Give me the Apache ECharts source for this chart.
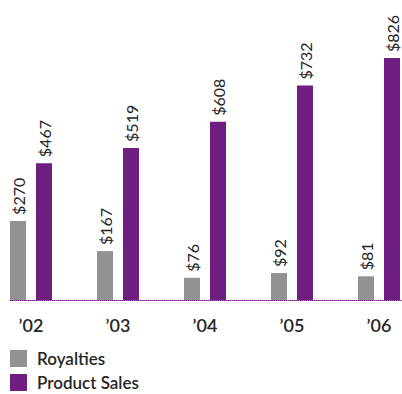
<!DOCTYPE html>
<html>
<head>
<meta charset="utf-8">
<script src="https://cdn.jsdelivr.net/npm/echarts@6/dist/echarts.min.js"></script>
<style>
  html, body { margin: 0; padding: 0; background: #fff; }
  #chart { width: 402px; height: 394px; }
</style>
</head>
<body>
<div id="chart"></div>
<script>
const years = ['’02', '’03', '’04', '’05', '’06'];
const royalties = [270, 167, 76, 92, 81];
const productSales = [467, 519, 608, 732, 826];

const GRAY = '#929292';
const PURPLE = '#6d1e80';
const INK = '#262626';
const FONT = 'Lato, "Open Sans", sans-serif';

const chart = echarts.init(document.getElementById('chart'), null, { renderer: 'svg' });

const barLabel = {
  show: true,
  position: 'top',
  rotate: 90,
  align: 'left',
  verticalAlign: 'middle',
  distance: 6,
  formatter: p => '$' + p.value,
  color: INK,
  fontSize: 16,
  fontFamily: FONT,
};

chart.setOption({
  animation: false,
  textStyle: { fontFamily: FONT },
  grid: [
    { left: 31, right: 23, top: 7, bottom: 94 },
    // baseline only: dotted rule across the plot
    { left: 10, right: 0, top: 7, bottom: 94 },
  ],
  legend: {
    orient: 'vertical',
    left: 10,
    top: 350,
    padding: 0,
    itemWidth: 17,
    itemHeight: 17,
    itemGap: 7,
    icon: 'rect',
    textStyle: {
      fontSize: 17,
      fontWeight: 600,
      color: INK,
      fontFamily: FONT,
      padding: [0, 0, 0, 5],
    },
    data: ['Royalties', 'Product Sales'],
  },
  xAxis: [
    {
      type: 'category',
      data: years,
      boundaryGap: false,
      axisTick: { show: false },
      axisLine: { show: false },
      axisLabel: { fontSize: 18, fontWeight: 600, color: INK, margin: 16, fontFamily: FONT },
    },
    {
      gridIndex: 1,
      type: 'value',
      min: 0,
      max: 1,
      axisTick: { show: false },
      axisLabel: { show: false },
      splitLine: { show: false },
      axisLine: { show: true, lineStyle: { color: PURPLE, type: 'dotted', width: 1 } },
    },
  ],
  yAxis: [
    { type: 'value', min: 0, max: 1000, show: false, splitLine: { show: false } },
    { gridIndex: 1, type: 'value', min: 0, max: 1, show: false, splitLine: { show: false } },
  ],
  series: [
    {
      name: 'Royalties',
      type: 'bar',
      data: royalties,
      barWidth: 16,
      barGap: '62.5%',
      itemStyle: { color: GRAY },
      label: barLabel,
      z: 3,
    },
    {
      name: 'Product Sales',
      type: 'bar',
      data: productSales,
      barWidth: 16,
      itemStyle: { color: PURPLE },
      label: barLabel,
      z: 3,
    },
  ],
});
</script>
</body>
</html>
